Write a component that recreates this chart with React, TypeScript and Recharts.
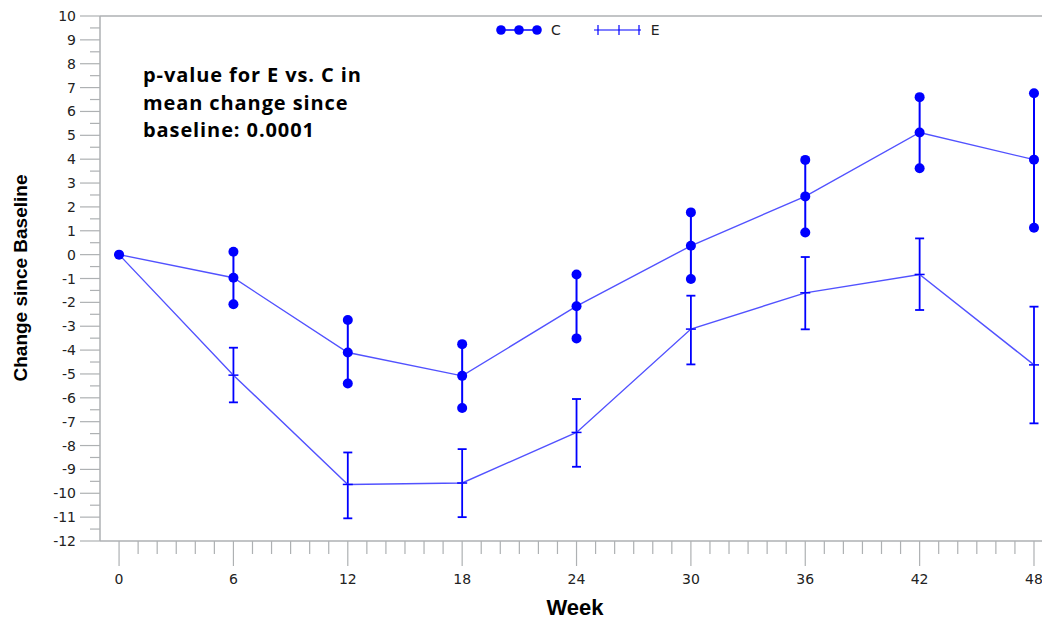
import React from 'react';
import { ComposedChart, Line, XAxis, YAxis, ErrorBar, ReferenceLine, Legend } from 'recharts';

const weeks = [0, 6, 12, 18, 24, 30, 36, 42, 48];
const cMean = [0, -0.97, -4.1, -5.08, -2.16, 0.37, 2.44, 5.12, 3.98];
const cUpper = [0, 0.12, -2.74, -3.75, -0.83, 1.77, 3.97, 6.6, 6.76];
const cLower = [0, -2.08, -5.4, -6.43, -3.51, -1.02, 0.93, 3.62, 1.13];
const eMean = [0, -5.05, -9.63, -9.57, -7.45, -3.12, -1.6, -0.83, -4.62];
const eUpper = [0, -3.9, -8.29, -8.15, -6.05, -1.72, -0.1, 0.68, -2.18];
const eLower = [0, -6.19, -11.05, -11.0, -8.89, -4.6, -3.13, -2.32, -7.07];

const xMajor = [0, 6, 12, 18, 24, 30, 36, 42, 48];
const yMajor = [-12, -11, -10, -9, -8, -7, -6, -5, -4, -3, -2, -1, 0, 1, 2, 3, 4, 5, 6, 7, 8, 9, 10];

const xTicks = Array.from({ length: 49 }, (_, i) => i);
const yTicks = yMajor.flatMap((v, i) => (i < yMajor.length - 1 ? [v, v + 0.5] : [v]));

const data = weeks.map((week, i) => ({
  week,
  c: cMean[i],
  cHi: i === 0 ? null : cUpper[i],
  cLo: i === 0 ? null : cLower[i],
  cErr: [cMean[i] - cLower[i], cUpper[i] - cMean[i]],
  e: eMean[i],
  eErr: [eMean[i] - eLower[i], eUpper[i] - eMean[i]],
}));

const BLUE = '#0000ff';
const LINE = '#5252ff';
const AXIS = '#aeb1b3';
const TICK_FONT = '"DejaVu Sans", sans-serif';

const XTick = (props: any) => {
  const { x, y, payload } = props;
  const major = xMajor.includes(payload.value);
  return (
    <g>
      <line x1={x} x2={x} y1={y} y2={y + (major ? 25 : 13)} stroke={AXIS} strokeWidth={1.2} />
      {major && (
        <text x={x} y={y + 43} textAnchor="middle" fontSize={14} fontFamily={TICK_FONT} fill="#222">
          {payload.value}
        </text>
      )}
    </g>
  );
};

const YTick = (props: any) => {
  const { x, y, payload } = props;
  const major = Number.isInteger(payload.value);
  return (
    <g>
      <line x1={x - (major ? 20 : 10)} x2={x} y1={y} y2={y} stroke={AXIS} strokeWidth={1.2} />
      {major && (
        <text x={x - 24} y={y + 5} textAnchor="end" fontSize={14} fontFamily={TICK_FONT} fill="#222">
          {payload.value}
        </text>
      )}
    </g>
  );
};

const EMark = (props: any) => {
  const { cx, cy, index } = props;
  if (cx == null || cy == null) return <g key={`em-${index}`} />;
  return <line key={`em-${index}`} x1={cx - 5} x2={cx + 5} y1={cy} y2={cy} stroke={BLUE} strokeWidth={1.5} />;
};

const LegendContent = () => (
  <div style={{ display: 'flex', alignItems: 'center', fontFamily: TICK_FONT, fontSize: 14, color: '#222' }}>
    <svg width={48} height={12}>
      <line x1={2} x2={46} y1={6} y2={6} stroke={BLUE} strokeWidth={1.5} />
      {[6, 24, 42].map((cx) => (
        <circle key={cx} cx={cx} cy={6} r={4.8} fill={BLUE} />
      ))}
    </svg>
    <span style={{ marginLeft: 8 }}>C</span>
    <svg width={50} height={12} style={{ marginLeft: 32 }}>
      <line x1={1} x2={48} y1={6} y2={6} stroke={BLUE} strokeWidth={1.2} />
      {[5, 26, 46].map((lx) => (
        <line key={lx} x1={lx} x2={lx} y1={1} y2={11} stroke={BLUE} strokeWidth={1.2} />
      ))}
    </svg>
    <span style={{ marginLeft: 8 }}>E</span>
  </div>
);

export default function App() {
  return (
    <div style={{ position: 'absolute', left: 0, top: 0, width: 1042, height: 620, background: '#fff', overflow: 'hidden' }}>
      <ComposedChart width={1042} height={620} data={data} margin={{ top: 16, right: 0, bottom: 0, left: 0 }}>
        <XAxis
          dataKey="week"
          type="number"
          domain={[-1, 48.42]}
          allowDataOverflow
          ticks={xTicks}
          interval={0}
          tick={<XTick />}
          tickLine={false}
          tickSize={0}
          tickMargin={0}
          height={79}
          axisLine={{ stroke: AXIS, strokeWidth: 1.5 }}
        />
        <YAxis
          type="number"
          domain={[-12, 10]}
          ticks={yTicks}
          interval={0}
          tick={<YTick />}
          tickLine={false}
          tickSize={0}
          tickMargin={0}
          width={100}
          axisLine={{ stroke: AXIS, strokeWidth: 1.5 }}
        />
        <ReferenceLine y={10} stroke={AXIS} strokeWidth={1.5} />
        <Legend
          verticalAlign="middle"
          align="center"
          content={<LegendContent />}
          wrapperStyle={{ top: 22, left: 495, width: 200, height: 14 }}
        />
        <Line
          dataKey="e"
          name="E"
          stroke={LINE}
          strokeWidth={1.4}
          dot={<EMark />}
          activeDot={false}
          isAnimationActive={false}
        >
          <ErrorBar dataKey="eErr" width={4.5} stroke={BLUE} strokeWidth={1.8} direction="y" />
        </Line>
        <Line
          dataKey="c"
          name="C"
          stroke={LINE}
          strokeWidth={1.4}
          dot={{ r: 5, fill: BLUE, stroke: 'none' }}
          activeDot={false}
          isAnimationActive={false}
        >
          <ErrorBar dataKey="cErr" width={0} stroke={BLUE} strokeWidth={2} direction="y" />
        </Line>
        <Line dataKey="cHi" stroke="none" dot={{ r: 5, fill: BLUE, stroke: 'none' }} activeDot={false} legendType="none" isAnimationActive={false} />
        <Line dataKey="cLo" stroke="none" dot={{ r: 5, fill: BLUE, stroke: 'none' }} activeDot={false} legendType="none" isAnimationActive={false} />
      </ComposedChart>

      <div
        style={{
          position: 'absolute',
          left: 143,
          top: 61,
          fontFamily: '"Open Sans", sans-serif',
          fontWeight: 700,
          fontSize: 20,
          letterSpacing: 0.9,
          lineHeight: '27.5px',
          color: '#000',
        }}
      >
        p-value for E vs. C in
        <br />
        mean change since
        <br />
        baseline: 0.0001
      </div>

      <div
        style={{
          position: 'absolute',
          left: 21,
          top: 278,
          transform: 'translate(-50%, -50%) rotate(-90deg)',
          whiteSpace: 'nowrap',
          fontFamily: '"Liberation Sans", Arial, sans-serif',
          fontWeight: 700,
          fontSize: 19,
          color: '#000',
        }}
      >
        Change since Baseline
      </div>

      <div
        style={{
          position: 'absolute',
          left: 575,
          top: 608,
          transform: 'translate(-50%, -50%)',
          fontFamily: '"Liberation Sans", Arial, sans-serif',
          fontWeight: 700,
          fontSize: 22,
          color: '#000',
        }}
      >
        Week
      </div>
    </div>
  );
}
